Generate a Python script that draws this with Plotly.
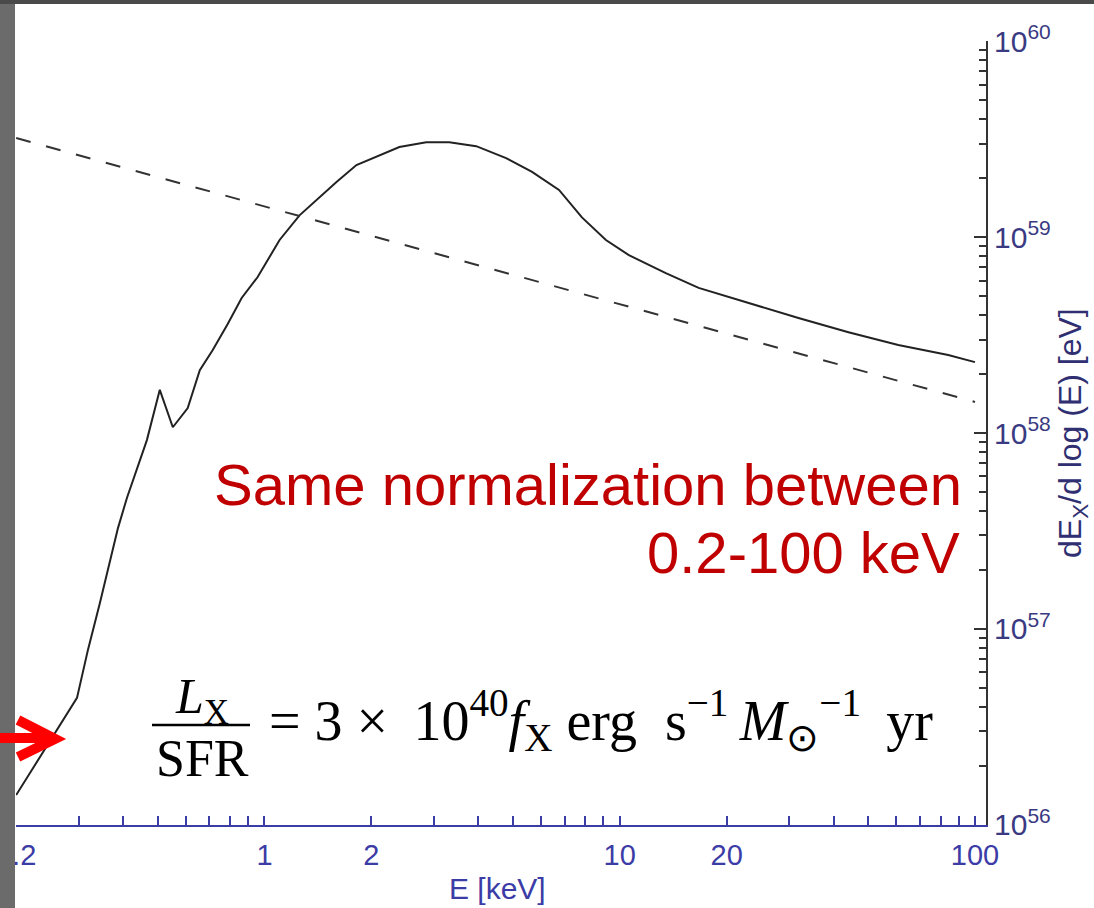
import plotly.graph_objects as go

# ---- data ----
energy_kev = [0.200, 0.2428, 0.2967, 0.3185, 0.3443, 0.3869, 0.4100, 0.4667, 0.5074, 0.5521,
              0.6081, 0.6576, 0.7152, 0.7880, 0.8625, 0.9568, 1.103, 1.255, 1.401, 1.595,
              1.815, 2.065, 2.397, 2.854, 3.313, 3.945, 4.788, 5.665, 6.747, 7.827,
              9.144, 10.61, 13.48, 16.68, 21.62, 31.85, 44.04, 60.82, 84.08, 100.0]
spectrum_ev = [1.42e56, 2.47e56, 4.45e56, 7.82e56, 1.36e57, 3.27e57, 4.66e57, 9.20e57, 1.66e58, 1.07e58,
               1.34e58, 2.09e58, 2.65e58, 3.60e58, 4.89e58, 6.25e58, 9.66e58, 1.29e59, 1.55e59, 1.91e59,
               2.33e59, 2.56e59, 2.88e59, 3.05e59, 3.05e59, 2.91e59, 2.53e59, 2.15e59, 1.74e59, 1.26e59,
               9.66e58, 8.09e58, 6.55e58, 5.50e58, 4.78e58, 3.86e58, 3.27e58, 2.81e58, 2.50e58, 2.30e58]
powerlaw_kev = [0.2, 100]
powerlaw_ev = [3.20e59, 1.44e58]

x_major = [0.2, 1, 2, 10, 20, 100]
x_major_text = ["0.2", "1", "2", "10", "20", "100"]
x_minor = [0.3, 0.4, 0.5, 0.6, 0.7, 0.8, 0.9, 3, 4, 5, 6, 7, 8, 9, 30, 40, 50, 60, 70, 80, 90]
top_major = [1, 10, 100]
top_minor = [0.3, 0.4, 0.5, 0.6, 0.7, 0.8, 0.9, 2, 3, 4, 5, 6, 7, 8, 9, 20, 30, 40, 50, 60, 70, 80, 90]
y_major = [1e56, 1e57, 1e58, 1e59, 1e60]
y_major_text = ["10<sup>56</sup>", "10<sup>57</sup>", "10<sup>58</sup>", "10<sup>59</sup>", "10<sup>60</sup>"]
y_minor = [float(m) * 10.0 ** e for e in range(56, 60) for m in range(2, 10)]
left_major = [10.0 ** e for e in range(1, 8)]
left_minor = [float(m) * 10.0 ** e for e in range(0, 7) for m in range(2, 10)]

W, H = 1094, 908
L, R, T, B = 16, 986, 41, 825


def px(x):
    return (x - L) / (R - L)


def py(y):
    return (B - y) / (B - T)


BLUE = "#3c3ca6"
DARK = "#333333"
SANS = "Liberation Sans, Arial, sans-serif"
SERIF = "Liberation Serif, Times New Roman, serif"
NB = "\u00a0"
TH = "\u2009"

fig = go.Figure()
fig.add_trace(go.Scatter(x=energy_kev, y=spectrum_ev, mode="lines",
                         line=dict(color="#222222", width=2), showlegend=False, hoverinfo="skip"))
fig.add_trace(go.Scatter(x=powerlaw_kev, y=powerlaw_ev, mode="lines",
                         line=dict(color="#333333", width=2, dash="15px,16px"),
                         showlegend=False, hoverinfo="skip"))

xr = [-0.6994, 2.031]
fig.update_layout(
    width=W, height=H,
    margin=dict(l=L, r=W - R, t=T, b=H - B, pad=0, autoexpand=False),
    paper_bgcolor="white", plot_bgcolor="white",
    xaxis=dict(type="log", range=xr, showgrid=False, zeroline=False, automargin=False,
               showline=True, linecolor=BLUE, linewidth=2,
               ticks="inside", ticklen=9, tickwidth=1.5, tickcolor=BLUE,
               tickvals=x_major, ticktext=x_major_text, ticklabeloverflow="allow",
               ticklabelstandoff=3,
               tickfont=dict(family=SANS, size=29, color=BLUE),
               minor=dict(ticks="inside", ticklen=9, tickwidth=1.5, tickcolor=BLUE, tickvals=x_minor),
               anchor="y"),
    xaxis2=dict(type="log", range=xr, overlaying="x", side="top", anchor="y", automargin=False,
                showgrid=False, zeroline=False, showline=True, linecolor=DARK, linewidth=2,
                ticks="inside", ticklen=10, tickwidth=1.5, tickcolor=DARK,
                tickvals=top_major, showticklabels=False,
                minor=dict(ticks="inside", ticklen=5, tickwidth=1.5, tickcolor=DARK, tickvals=top_minor)),
    yaxis=dict(type="log", range=[55.9995, 60.0005], side="right", showgrid=False, zeroline=False,
               automargin=False, showline=True, linecolor=DARK, linewidth=2,
               ticks="inside", ticklen=12, tickwidth=1.5, tickcolor=DARK,
               tickvals=y_major, ticktext=y_major_text, ticklabeloverflow="allow",
               tickfont=dict(family=SANS, size=30, color="#3a3a82"),
               minor=dict(ticks="inside", ticklen=7, tickwidth=1.5, tickcolor=DARK, tickvals=y_minor),
               anchor="x"),
    yaxis2=dict(type="log", range=[0.062, 7.0], overlaying="y", side="left", anchor="x",
                automargin=False, showgrid=False, zeroline=False, showline=True, linecolor=BLUE, linewidth=2,
                ticks="inside", ticklen=12, tickwidth=1.5, tickcolor=BLUE,
                tickvals=left_major, showticklabels=False,
                minor=dict(ticks="inside", ticklen=6, tickwidth=1.5, tickcolor=BLUE, tickvals=left_minor)),
)

shapes = []
# slide frame (gray strips)
shapes.append(dict(type="rect", xref="paper", yref="paper", layer="above",
                   x0=px(0), x1=px(15), y0=py(H + 5), y1=py(-5),
                   fillcolor="#6b6b6b", line=dict(width=0)))
shapes.append(dict(type="rect", xref="paper", yref="paper", layer="above",
                   x0=px(0), x1=px(W), y0=py(4), y1=py(-5),
                   fillcolor="#4a4a4a", line=dict(width=0)))
# fraction bar
shapes.append(dict(type="line", xref="paper", yref="paper", layer="above",
                   x0=px(152), x1=px(250), y0=py(725), y1=py(725),
                   line=dict(color="black", width=2.5)))
# red arrow
shapes.append(dict(type="line", xref="paper", yref="paper", layer="above",
                   x0=px(0), x1=px(48), y0=py(738), y1=py(738),
                   line=dict(color="#ff0000", width=10)))
shapes.append(dict(type="path", xref="paper", yref="paper", layer="above",
                   path="M {:.5f} {:.5f} L {:.5f} {:.5f} L {:.5f} {:.5f}".format(
                       px(18), py(720), px(55), py(739), px(18), py(757)),
                   line=dict(color="#ff0000", width=10)))
fig.update_layout(shapes=shapes)

formula = ("=" + NB + "3" + NB + "×" + NB + TH + "10<sup>40</sup><i>f</i><sub>X</sub>" + NB + "erg"
           + NB + NB + "s<sup>−1</sup>" + TH + "<i>M</i><sub>⊙</sub><sup>−1</sup>" + NB + TH + "yr")

ann = []
ann.append(dict(text="E [keV]", xref="paper", yref="paper", x=px(497), y=py(888),
                xanchor="center", yanchor="middle", showarrow=False,
                font=dict(family=SANS, size=30, color=BLUE)))
ann.append(dict(text="dE<sub>X</sub>/d log (E) [eV]", xref="paper", yref="paper",
                x=px(1072), y=py(433), textangle=-90, xanchor="center", yanchor="middle",
                showarrow=False, font=dict(family=SANS, size=32, color="#2f2f72")))
ann.append(dict(text="Same normalization between", xref="paper", yref="paper",
                x=px(964), y=py(484), xanchor="right", yanchor="middle", showarrow=False,
                font=dict(family=SANS, size=58, color="#c00000")))
ann.append(dict(text="0.2-100 keV", xref="paper", yref="paper",
                x=px(962), y=py(552), xanchor="right", yanchor="middle", showarrow=False,
                font=dict(family=SANS, size=58, color="#c00000")))
ann.append(dict(text="<i>L</i><sub>X</sub>", xref="paper", yref="paper",
                x=px(202), y=py(700), xanchor="center", yanchor="middle", showarrow=False,
                font=dict(family=SERIF, size=50, color="black")))
ann.append(dict(text="SFR", xref="paper", yref="paper",
                x=px(202), y=py(758), xanchor="center", yanchor="middle", showarrow=False,
                font=dict(family=SERIF, size=52, color="black")))
ann.append(dict(text=formula,
                xref="paper", yref="paper", x=px(267), y=py(720), xanchor="left", yanchor="middle",
                showarrow=False, font=dict(family=SERIF, size=56, color="black")))
fig.update_layout(annotations=ann)

fig.write_html("out.html")
